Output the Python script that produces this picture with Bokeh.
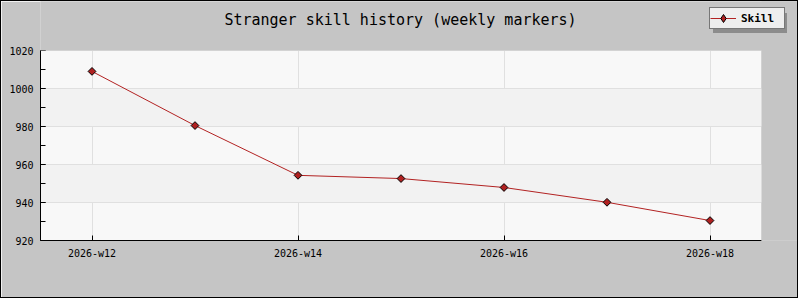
import math
from bokeh.plotting import figure
from bokeh.models import (Range1d, FixedTicker, SingleIntervalTicker, Legend, LegendItem,
                          Label, BoxAnnotation, ColumnDataSource)
from bokeh.embed import file_html
from bokeh.resources import INLINE

# ---- data ----
weeks = ["2026-w12", "2026-w13", "2026-w14", "2026-w15", "2026-w16", "2026-w17", "2026-w18"]
skill = [1009, 980.5, 954.3, 952.6, 947.9, 940.1, 930.5]
tick_weeks = ["2026-w12", "2026-w14", "2026-w16", "2026-w18"]
y_min, y_max = 920, 1020
title_text = "Stranger skill history (weekly markers)"
series_name = "Skill"

MONO = "DejaVu Sans Mono"
GRAY = "#c5c5c5"

# ---- layout geometry (pixels) ----
W, H = 798, 298            # canvas inside the 1px page border
LEFT, BOTTOM = 39, 59      # borders holding the axes
PLOT_W, PLOT_H = 721, 190  # visible plot area
frame_w, frame_h = W - LEFT, H - BOTTOM

x0, x1 = -0.5, len(weeks) - 0.5
x_end = x0 + (x1 - x0) * frame_w / PLOT_W
y_end = y_min + (y_max - y_min) * frame_h / PLOT_H

xs = list(range(len(weeks)))
src = ColumnDataSource(dict(x=xs, y=skill, week=weeks))

p = figure(width=W, height=H, output_backend="svg", toolbar_location=None,
           x_range=Range1d(x0, x_end), y_range=Range1d(y_min, y_end),
           min_border_left=LEFT, min_border_right=0, min_border_top=0,
           min_border_bottom=BOTTOM)
p.styles = {"border": "1px solid black"}
p.title.text = ""
p.border_fill_color = GRAY
p.background_fill_color = GRAY
p.outline_line_color = None

# plot-area background, painted before the grids
plot_bg = BoxAnnotation(left=x0, right=x1, bottom=y_min, top=y_max, fill_color="#f8f8f8",
                        fill_alpha=1, line_color=None, level="underlay")
p.center = [plot_bg] + list(p.center)

# grids
p.ygrid.grid_line_color = "#e0e0e0"
p.ygrid.band_fill_color = "#f2f2f2"
p.ygrid.band_fill_alpha = 1
p.ygrid.bounds = (y_min, y_max)
p.xgrid.grid_line_color = "#e0e0e0"
p.xgrid.bounds = (x0, x1)

# axes
tick_idx = [weeks.index(w) for w in tick_weeks]
p.xaxis.ticker = FixedTicker(ticks=tick_idx, minor_ticks=[])
p.xaxis.major_label_overrides = {i: weeks[i] for i in tick_idx}
p.xaxis.bounds = (x0, x1)
p.yaxis.ticker = SingleIntervalTicker(interval=20, num_minor_ticks=2)
p.yaxis.bounds = (y_min, y_max)
for ax in (p.xaxis[0], p.yaxis[0]):
    ax.axis_line_color = "black"
    ax.major_tick_line_color = "black"
    ax.minor_tick_line_color = "black"
    ax.major_tick_in = 5
    ax.major_tick_out = 0
    ax.minor_tick_in = 5
    ax.minor_tick_out = 0
    ax.major_label_text_font = MONO
    ax.major_label_text_font_size = "10px"
    ax.major_label_text_color = "black"
p.yaxis.major_label_standoff = 7
p.xaxis.major_label_standoff = 7

# hide grid overflow outside the plot area
ext_x, ext_y = 1.0, 20.0
p.add_layout(BoxAnnotation(bottom=y_max, top=y_end + ext_y, left=x0 - ext_x, right=x_end + ext_x,
                           fill_color=GRAY, fill_alpha=1, line_color=None))
p.add_layout(BoxAnnotation(left=x1, right=x_end + ext_x, bottom=y_min - ext_y, top=y_end + ext_y,
                           fill_color=GRAY, fill_alpha=1, line_color=None))

# dummy (invisible) renderer for legend shadow
dummy = p.line("x", "y", source=src, line_alpha=0)

ln = p.line("x", "y", source=src, line_color="#b22222", line_width=1)
sc = p.scatter("x", "y", source=src, marker="square", angle=math.pi / 4, size=5.5,
               fill_color="#b02020", line_color="black", line_width=1)
# legend-only marker (hidden in the plot, drawn in the legend)
sc_leg = p.scatter("x", "y", source=src, marker="diamond", size=9,
                   fill_color="#b02020", line_color="black", line_width=1, visible=False)

def make_legend(items, loc, fill, border, text_alpha):
    lg = Legend(items=items, location=loc, orientation="vertical")
    lg.background_fill_color = fill
    lg.background_fill_alpha = 1
    lg.border_line_color = border
    lg.label_text_font = MONO
    lg.label_text_font_style = "bold"
    lg.label_text_font_size = "11px"
    lg.label_text_color = "black"
    lg.label_text_alpha = text_alpha
    lg.glyph_width = 26
    lg.glyph_height = 20
    lg.label_height = 20
    lg.label_width = 43
    lg.label_standoff = 5
    lg.padding = 0
    lg.margin = 0
    lg.spacing = 0
    return lg

shadow = make_legend([LegendItem(label=" ", renderers=[dummy])], (673, 207),
                     "#8c8c8c", None, 0)
main = make_legend([LegendItem(label=series_name, renderers=[ln, sc_leg])], (669, 211),
                   "#eeeeee", "black", 1)
p.add_layout(shadow, "center")
p.add_layout(main, "center")

title = Label(x=360, y=221, x_units="screen", y_units="screen", text=title_text,
              text_font=MONO, text_font_size="15px", text_align="center",
              text_baseline="middle", text_color="black")
p.add_layout(title)

open("out.html", "w").write(file_html(p, INLINE))
